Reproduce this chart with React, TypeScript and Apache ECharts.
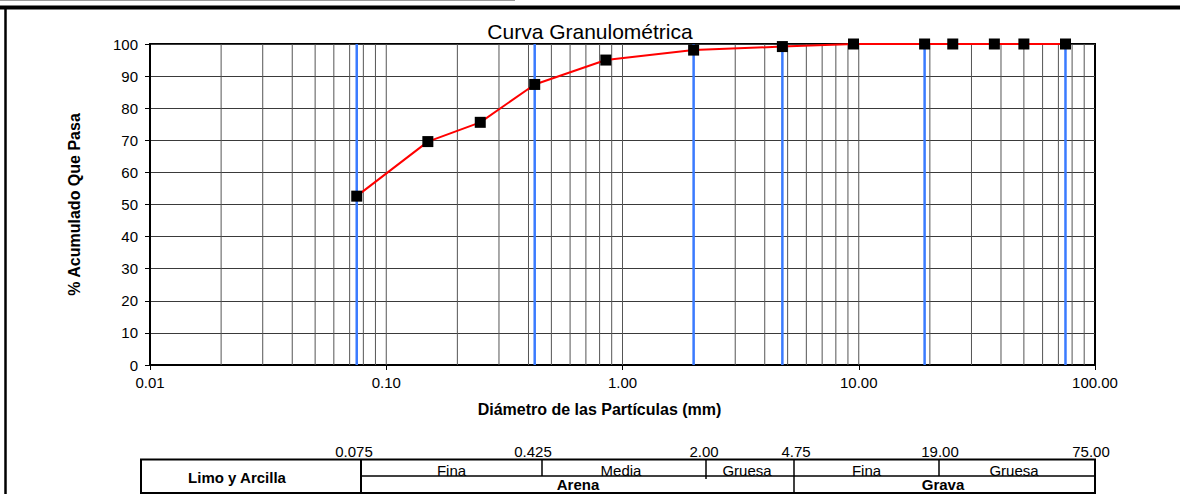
import React, { useEffect, useRef } from "react";
import * as echarts from "echarts";

// ---- data ----
const sieveSizes = [0.075, 0.15, 0.25, 0.425, 0.85, 2.0, 4.75, 9.5, 19, 25, 37.5, 50, 75];
const percentPassing = [52.6, 69.6, 75.6, 87.4, 95.0, 98.1, 99.2, 100, 100, 100, 100, 100, 100];
const boundarySizes = [0.075, 0.425, 2.0, 4.75, 19, 75];
const decades = [0.01, 0.1, 1, 10];
const minorMultipliers = [1, 2, 3, 4, 5, 6, 7, 8, 9];
const boundaryLabels = ["0.075", "0.425", "2.00", "4.75", "19.00", "75.00"];
const subClassLabels = ["Fina", "Media", "Gruesa", "Fina", "Gruesa"];
const groupLabels = ["Arena", "Grava"];
const fineLabel = "Limo y Arcilla";
const titleText = "Curva Granulométrica";
const xName = "Diámetro de las Partículas (mm)";
const yName = "% Acumulado Que Pasa";

const FONT = "'Liberation Sans', Arial, Helvetica, sans-serif";

export default function App() {
  const ref = useRef<HTMLDivElement>(null);
  useEffect(() => {
    if (!ref.current) return;
    document.body.style.margin = "0";
    const chart = echarts.init(ref.current, undefined, { renderer: "svg" });

    const gridValues: number[] = [];
    decades.forEach((d) => minorMultipliers.forEach((m) => {
      const v = +(d * m).toPrecision(3);
      if (v > 0.01) gridValues.push(v);
    }));

    // table layout (pixels)
    const tTop = 459.5, tMid = 476, tBot = 493;
    const tLeft = 141, tRight = 1095;
    const divX = [361, 542, 706, 794, 939, 1095];
    const bLabelX = [354, 533, 704, 796, 940, 1091];
    const subCenters = [451.5, 621, 747, 866.5, 1014];
    const groupCenters = [578, 943];

    const txt = (x: number, y: number, text: string, size: number, bold = false, align = "center") => ({
      type: "text",
      x, y,
      style: {
        text,
        fill: "#000",
        font: `${bold ? "bold " : ""}${size}px ${FONT}`,
        textAlign: align, align,
        textVerticalAlign: "middle", verticalAlign: "middle",
      },
      silent: true,
    });
    const ln = (x1: number, y1: number, x2: number, y2: number, w = 1.5, c = "#000") => ({
      type: "line",
      shape: { x1, y1, x2, y2 },
      style: { stroke: c, lineWidth: w },
      silent: true,
    });

    const graphics: any[] = [
      ln(0, 0.5, 515, 0.5, 1, "#9a9a9a"),
      ln(0, 7.5, 1180, 7.5, 4, "#000"),
      ln(5.5, 7, 5.5, 494, 2.5, "#000"),
      {
        type: "rect",
        shape: { x: tLeft, y: tTop, width: tRight - tLeft, height: tBot - tTop },
        style: { fill: "none", stroke: "#000", lineWidth: 2 },
        silent: true,
      },
      ln(divX[0], tTop, divX[0], tBot, 2),
      ln(divX[0], tMid, tRight, tMid, 1.5),
      ln(divX[1], tTop, divX[1], tMid, 1.5),
      ln(divX[2], tTop, divX[2], tMid + 3, 1.5),
      ln(divX[3], tTop, divX[3], tBot, 1.5),
      ln(divX[4], tTop, divX[4], tMid, 1.5),
      txt(237, 477, fineLabel, 15, true),
    ];
    boundaryLabels.forEach((l, i) => graphics.push(txt(bLabelX[i], 451.5, l, 15)));
    subClassLabels.forEach((l, i) => graphics.push(txt(subCenters[i], 470.5, l, 15)));
    groupLabels.forEach((l, i) => graphics.push(txt(groupCenters[i], 484.5, l, 15, true)));

    const vLine = (color: string, width: number) => (params: any, api: any) => {
      const x = api.value(0);
      const p0 = api.coord([x, 0]);
      const p1 = api.coord([x, 100]);
      return {
        type: "line",
        shape: { x1: p0[0], y1: p0[1], x2: p1[0], y2: p1[1] },
        style: { stroke: color, lineWidth: width },
        silent: true,
      };
    };

    chart.setOption({
      animation: false,
      title: {
        text: titleText,
        left: "center",
        top: 16,
        textStyle: { fontFamily: FONT, fontSize: 21, fontWeight: "normal", color: "#000" },
      },
      grid: {
        left: 150, right: 85, top: 44, bottom: 129,
        show: true, borderColor: "#000", borderWidth: 2, backgroundColor: "#fff",
      },
      xAxis: {
        type: "log",
        logBase: 10,
        min: 0.01,
        max: 100,
        splitNumber: 4,
        name: xName,
        nameLocation: "middle",
        nameGap: 36,
        nameTextStyle: { fontFamily: FONT, fontSize: 16, fontWeight: "bold", color: "#000", padding: [0, 46, 0, 0] },
        axisLine: { show: true, lineStyle: { color: "#000", width: 2 } },
        axisTick: { show: true, length: 5, lineStyle: { color: "#000" } },
        axisLabel: {
          fontFamily: FONT, fontSize: 15, color: "#000", margin: 10,
          formatter: (v: number) => v.toFixed(2),
        },
        splitLine: { show: false },
      },
      yAxis: {
        type: "value",
        min: 0,
        max: 100,
        interval: 10,
        name: yName,
        nameLocation: "middle",
        nameGap: 68,
        nameTextStyle: { fontFamily: FONT, fontSize: 16, fontWeight: "bold", color: "#000" },
        axisLine: { show: true, lineStyle: { color: "#000", width: 2 } },
        axisTick: { show: true, length: 5, lineStyle: { color: "#000" } },
        axisLabel: { fontFamily: FONT, fontSize: 15, color: "#000", margin: 12 },
        splitLine: { show: true, lineStyle: { color: "#3a3a3a", width: 1 } },
      },
      series: [
        {
          type: "custom",
          silent: true,
          z: 1,
          clip: true,
          renderItem: vLine("#555", 1),
          encode: { x: 0 },
          data: gridValues.map((v) => [v, 0]),
        },
        {
          type: "custom",
          silent: true,
          z: 2,
          clip: true,
          renderItem: vLine("#3a7bff", 2.5),
          encode: { x: 0 },
          data: boundarySizes.map((v) => [v, 0]),
        },
        {
          type: "line",
          z: 5,
          data: sieveSizes.map((s, i) => [s, percentPassing[i]]),
          lineStyle: { color: "#ff0000", width: 2 },
          itemStyle: { color: "#000" },
          symbol: "rect",
          symbolSize: 11,
          showAllSymbol: true,
          emphasis: { disabled: true },
        },
      ],
      graphic: graphics,
    });
    return () => chart.dispose();
  }, []);
  return <div ref={ref} style={{ position: "fixed", left: 0, top: 0, width: 1180, height: 494, background: "#fff" }} />;
}
